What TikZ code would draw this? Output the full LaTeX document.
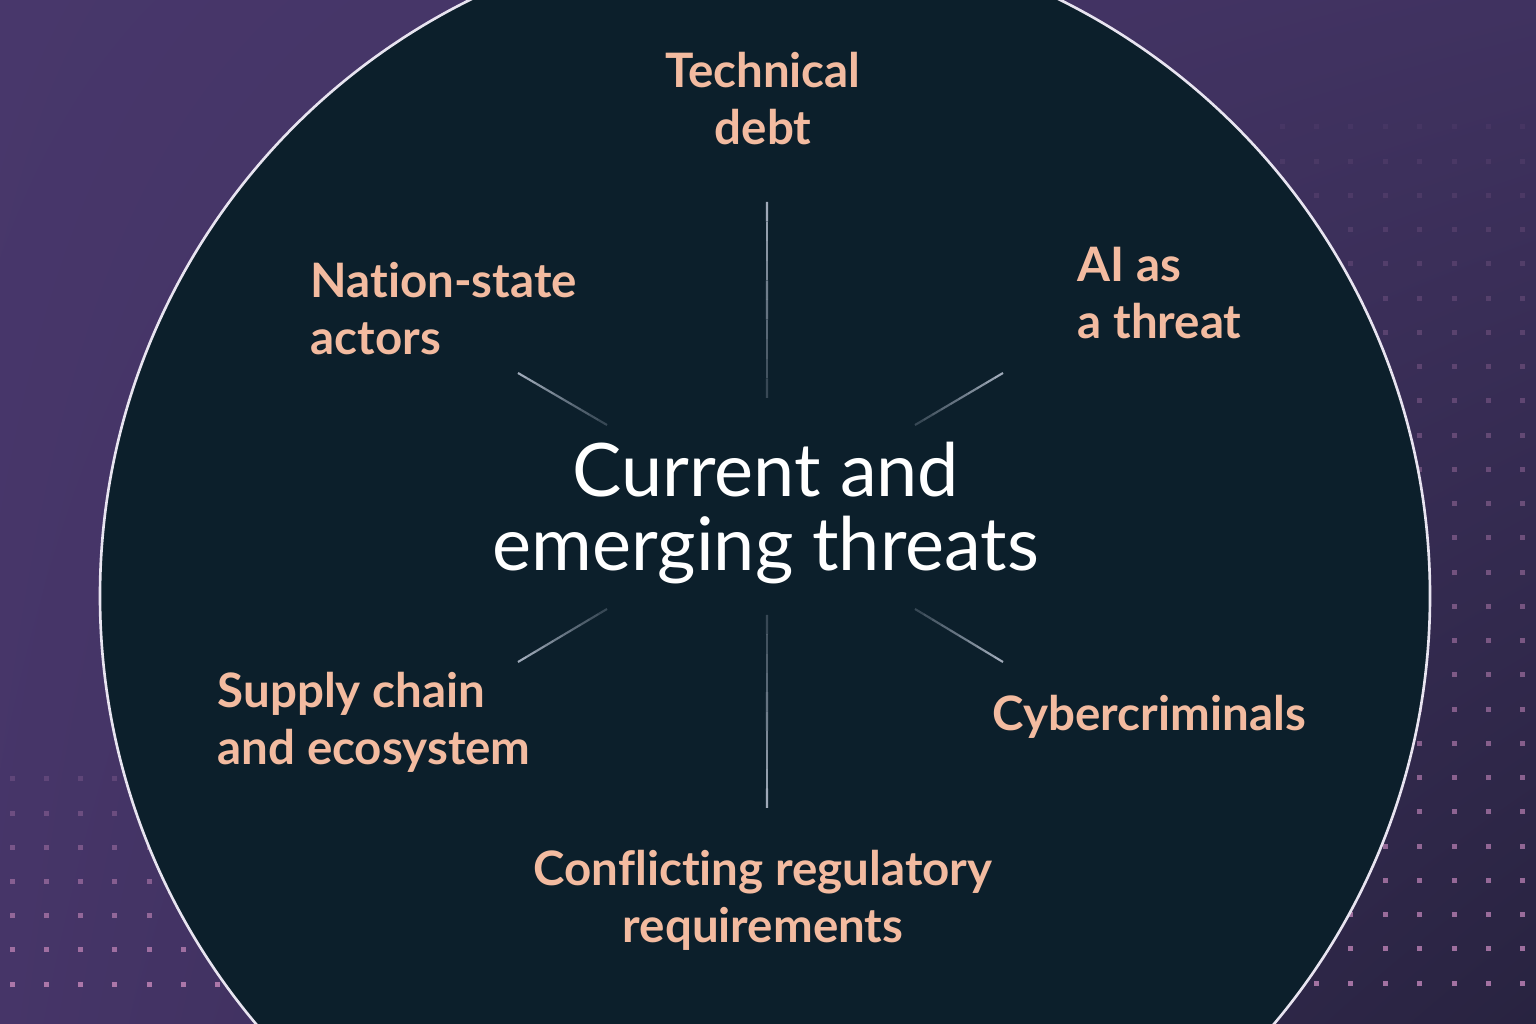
\documentclass[tikz,border=0pt]{standalone}
\usepackage{fontspec}
\setmainfont{Lato}[Ligatures=NoCommon]
\usetikzlibrary{calc,shadings}
\definecolor{bgUL}{RGB}{72,55,107}
\definecolor{bgUR}{RGB}{64,50,96}
\definecolor{bgLL}{RGB}{70,53,104}
\definecolor{bgLR}{RGB}{40,35,64}
\definecolor{disc}{RGB}{12,31,43}
\definecolor{rim}{RGB}{232,228,240}
\definecolor{salmon}{RGB}{243,187,160}
\definecolor{spokecol}{RGB}{175,185,200}
\definecolor{dotcol}{RGB}{176,122,172}
\tikzset{
  label/.style={text=salmon, font=\fontsize{13.5}{16.2}\selectfont\bfseries, inner sep=0pt},
  hub/.style={text=white, font=\fontsize{21}{20.8}\selectfont, align=center, inner sep=0pt},
  spoke/.style={draw=spokecol, line width=0.6pt},
  dot/.style={fill=dotcol, draw=none}
}
\begin{document}
\begin{tikzpicture}[x=0.01cm, y=0.01cm]
    \useasboundingbox (0,0) rectangle (1536,1024);
    \shade[upper left=bgUL, upper right=bgUR, lower left=bgLL, lower right=bgLR] (0,0) rectangle (1536,1024);
    \foreach \i in {0,...,7}
      \foreach \j in {0,...,6}
        \fill[dot, opacity={0.25+\j*0.12}] ({12+34.3*\i-2.5},{1024-779-34.2*\j-2.5}) rectangle ++(5,5);
    \foreach \i in {0,...,7}
      \foreach \j in {0,...,25}
        \fill[dot, opacity={0.08+\j*0.033}] ({1282+34.4*\i-2.5},{1024-127-34.25*\j-2.5}) rectangle ++(5,5);
    \fill[disc] (765,428) circle (665);
    \draw[rim, line width=0.75pt] (765,428) circle (665);
    \coordinate (To) at (767,822);  \coordinate (Ti) at (767,626);
    \coordinate (Bo) at (767,216);  \coordinate (Bi) at (767,409);
    \coordinate (ULo) at (518,651); \coordinate (ULi) at (607,599);
    \coordinate (URo) at (1003,651); \coordinate (URi) at (915,599);
    \coordinate (LLo) at (518,362); \coordinate (LLi) at (607,415);
    \coordinate (LRo) at (1003,362); \coordinate (LRi) at (915,415);
    \foreach \a/\b in {To/Ti, Bo/Bi, ULo/ULi, URo/URi, LLo/LLi, LRo/LRi}
      \foreach \k in {0,...,9}
        \draw[spoke, draw opacity={0.9-\k*0.07}] ($(\a)!\k/10!(\b)$) -- ($(\a)!{(\k+1)/10}!(\b)$);
    \node[hub] (hub) at (766,511) {Current and\\emerging threats};
    \node[label, align=center] (tech) at (763,925) {Technical\\debt};
    \node[label, align=left, anchor=west] (nation) at (310,715) {Nation-state\\actors};
    \node[label, align=left, anchor=west] (ai) at (1077,731) {AI as\\a threat};
    \node[label, align=left, anchor=west] (supply) at (217,302) {Supply chain\\and ecosystem};
    \node[label, anchor=west] (cyber) at (992,307) {Cybercriminals};
    \node[label, align=center] (conflict) at (763,124) {Conflicting regulatory\\requirements};
\end{tikzpicture}
\end{document}
